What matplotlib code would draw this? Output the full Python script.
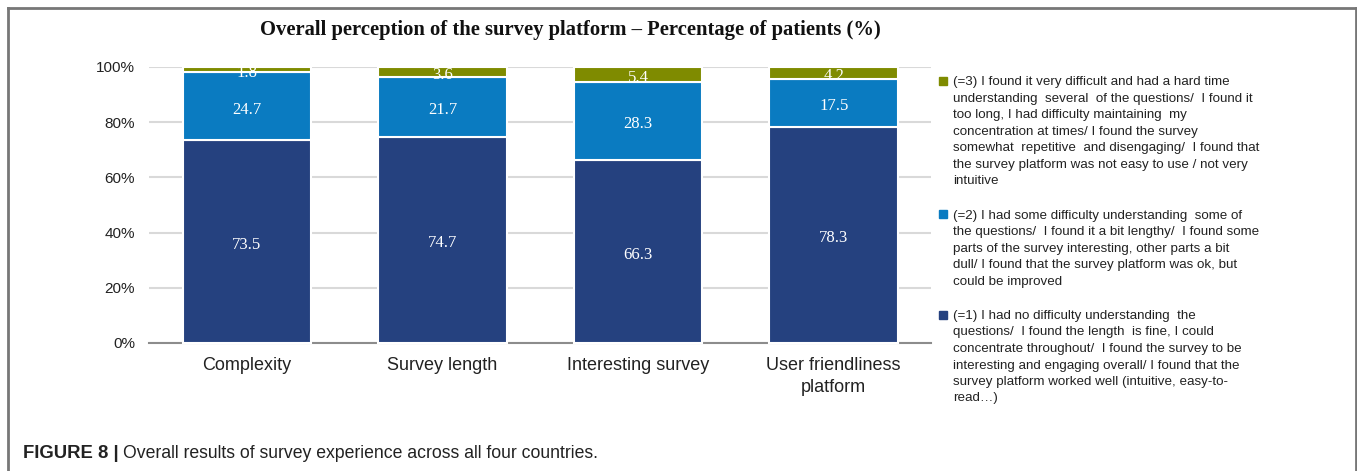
import matplotlib
matplotlib.use("Agg")
import matplotlib.pyplot as plt
import numpy as np
from matplotlib.lines import Line2D
from matplotlib.patches import Rectangle

W, H = 1357, 471

categories = ["Complexity", "Survey length", "Interesting survey", "User friendliness\nplatform"]
score_1 = [73.5, 74.7, 66.3, 78.3]
score_2 = [24.7, 21.7, 28.3, 17.5]
score_3 = [1.8, 3.6, 5.4, 4.2]
yticks = [0, 20, 40, 60, 80, 100]
ytick_labels = ["0%", "20%", "40%", "60%", "80%", "100%"]

labels = [
    "(=1) I had no difficulty understanding  the\n"
    "questions/  I found the length  is fine, I could\n"
    "concentrate throughout/  I found the survey to be\n"
    "interesting and engaging overall/ I found that the\n"
    "survey platform worked well (intuitive, easy-to-\n"
    "read\u2026)",
    "(=2) I had some difficulty understanding  some of\n"
    "the questions/  I found it a bit lengthy/  I found some\n"
    "parts of the survey interesting, other parts a bit\n"
    "dull/ I found that the survey platform was ok, but\n"
    "could be improved",
    "(=3) I found it very difficult and had a hard time\n"
    "understanding  several  of the questions/  I found it\n"
    "too long, I had difficulty maintaining  my\n"
    "concentration at times/ I found the survey\n"
    "somewhat  repetitive  and disengaging/  I found that\n"
    "the survey platform was not easy to use / not very\n"
    "intuitive",
]
colors = ["#25417F", "#0A7BC1", "#7F8B00"]

title = "Overall perception of the survey platform \u2013 Percentage of patients (%)"
caption_head = "FIGURE 8 |"
caption_body = "Overall results of survey experience across all four countries."


def fx(px):
    return px / W


def fy(py):
    return 1 - py / H


fig = plt.figure(figsize=(W / 100, H / 100), dpi=100)
fig.patch.set_facecolor("white")
ax = fig.add_axes([fx(149), fy(343), fx(931.5) - fx(149), fy(67) - fy(343)])

x = np.arange(len(categories))
series = [score_1, score_2, score_3]
bottom = np.zeros(len(categories))
for vals, color in zip(series, colors):
    vals = np.asarray(vals)
    ax.bar(x, vals, bottom=bottom, width=0.657, color=color,
           edgecolor="white", linewidth=1.5, zorder=3, clip_on=False)
    for xi, b, v in zip(x, bottom, vals):
        ax.annotate(f"{v:.1f}", (xi, b + v / 2), xytext=(0, -2.5), textcoords="offset points",
                    ha="center", va="center", color="white", fontsize=12,
                    family="Liberation Serif", zorder=4, annotation_clip=False)
    bottom += vals

ax.set_xlim(-0.5, 3.5)
ax.set_ylim(0, 100)
ax.set_yticks(yticks)
ax.set_yticklabels(ytick_labels, fontsize=11, family="Liberation Sans", color="#222222")
ax.set_xticks(x)
ax.set_xticklabels(categories, fontsize=13, family="Liberation Sans", color="#222222",
                   linespacing=1.4)
ax.tick_params(axis="both", length=0)
ax.tick_params(axis="y", pad=10)
ax.tick_params(axis="x", pad=10)
ax.grid(axis="y", color="#D9D9D9", linewidth=1.5, zorder=0)
for side in ("top", "right", "left"):
    ax.spines[side].set_visible(False)
ax.spines["bottom"].set_color("#8C8C8C")
ax.spines["bottom"].set_linewidth(1.5)

# legend entries, highest score on top
line_h = 16.7
ytop = 80.7
for lab, color in list(zip(labels, colors))[::-1]:
    fig.patches.append(Rectangle((fx(939), fy(ytop + 4)), fx(8), 8 / H,
                                 transform=fig.transFigure, color=color))
    fig.text(fx(953), fy(ytop - 4.5), lab, ha="left", va="top", fontsize=9.6,
             family="Liberation Sans", color="#222222", linespacing=1.5)
    ytop += (lab.count("\n") + 2) * line_h

fig.text(fx(570), fy(30), title, ha="center", va="center", fontsize=14.9,
         family="Liberation Serif", weight="bold", color="#111111")

fig.text(fx(23), fy(453), caption_head, ha="left", va="center", fontsize=13.3,
         family="Liberation Sans", weight="bold", color="#222222")
fig.text(fx(123), fy(453), caption_body, ha="left", va="center", fontsize=12.7,
         family="Liberation Sans", color="#222222")

# frame around the chart panel
frame = dict(color="#777777", linewidth=2, transform=fig.transFigure)
fig.add_artist(Line2D([fx(7.5), fx(1355.5)], [fy(8.3), fy(8.3)], **frame))
fig.add_artist(Line2D([fx(7.5), fx(7.5)], [fy(8.3), 0], **frame))
fig.add_artist(Line2D([fx(1355.5), fx(1355.5)], [fy(8.3), 0], **frame))

fig.savefig("out.png", dpi=100, facecolor="white")
